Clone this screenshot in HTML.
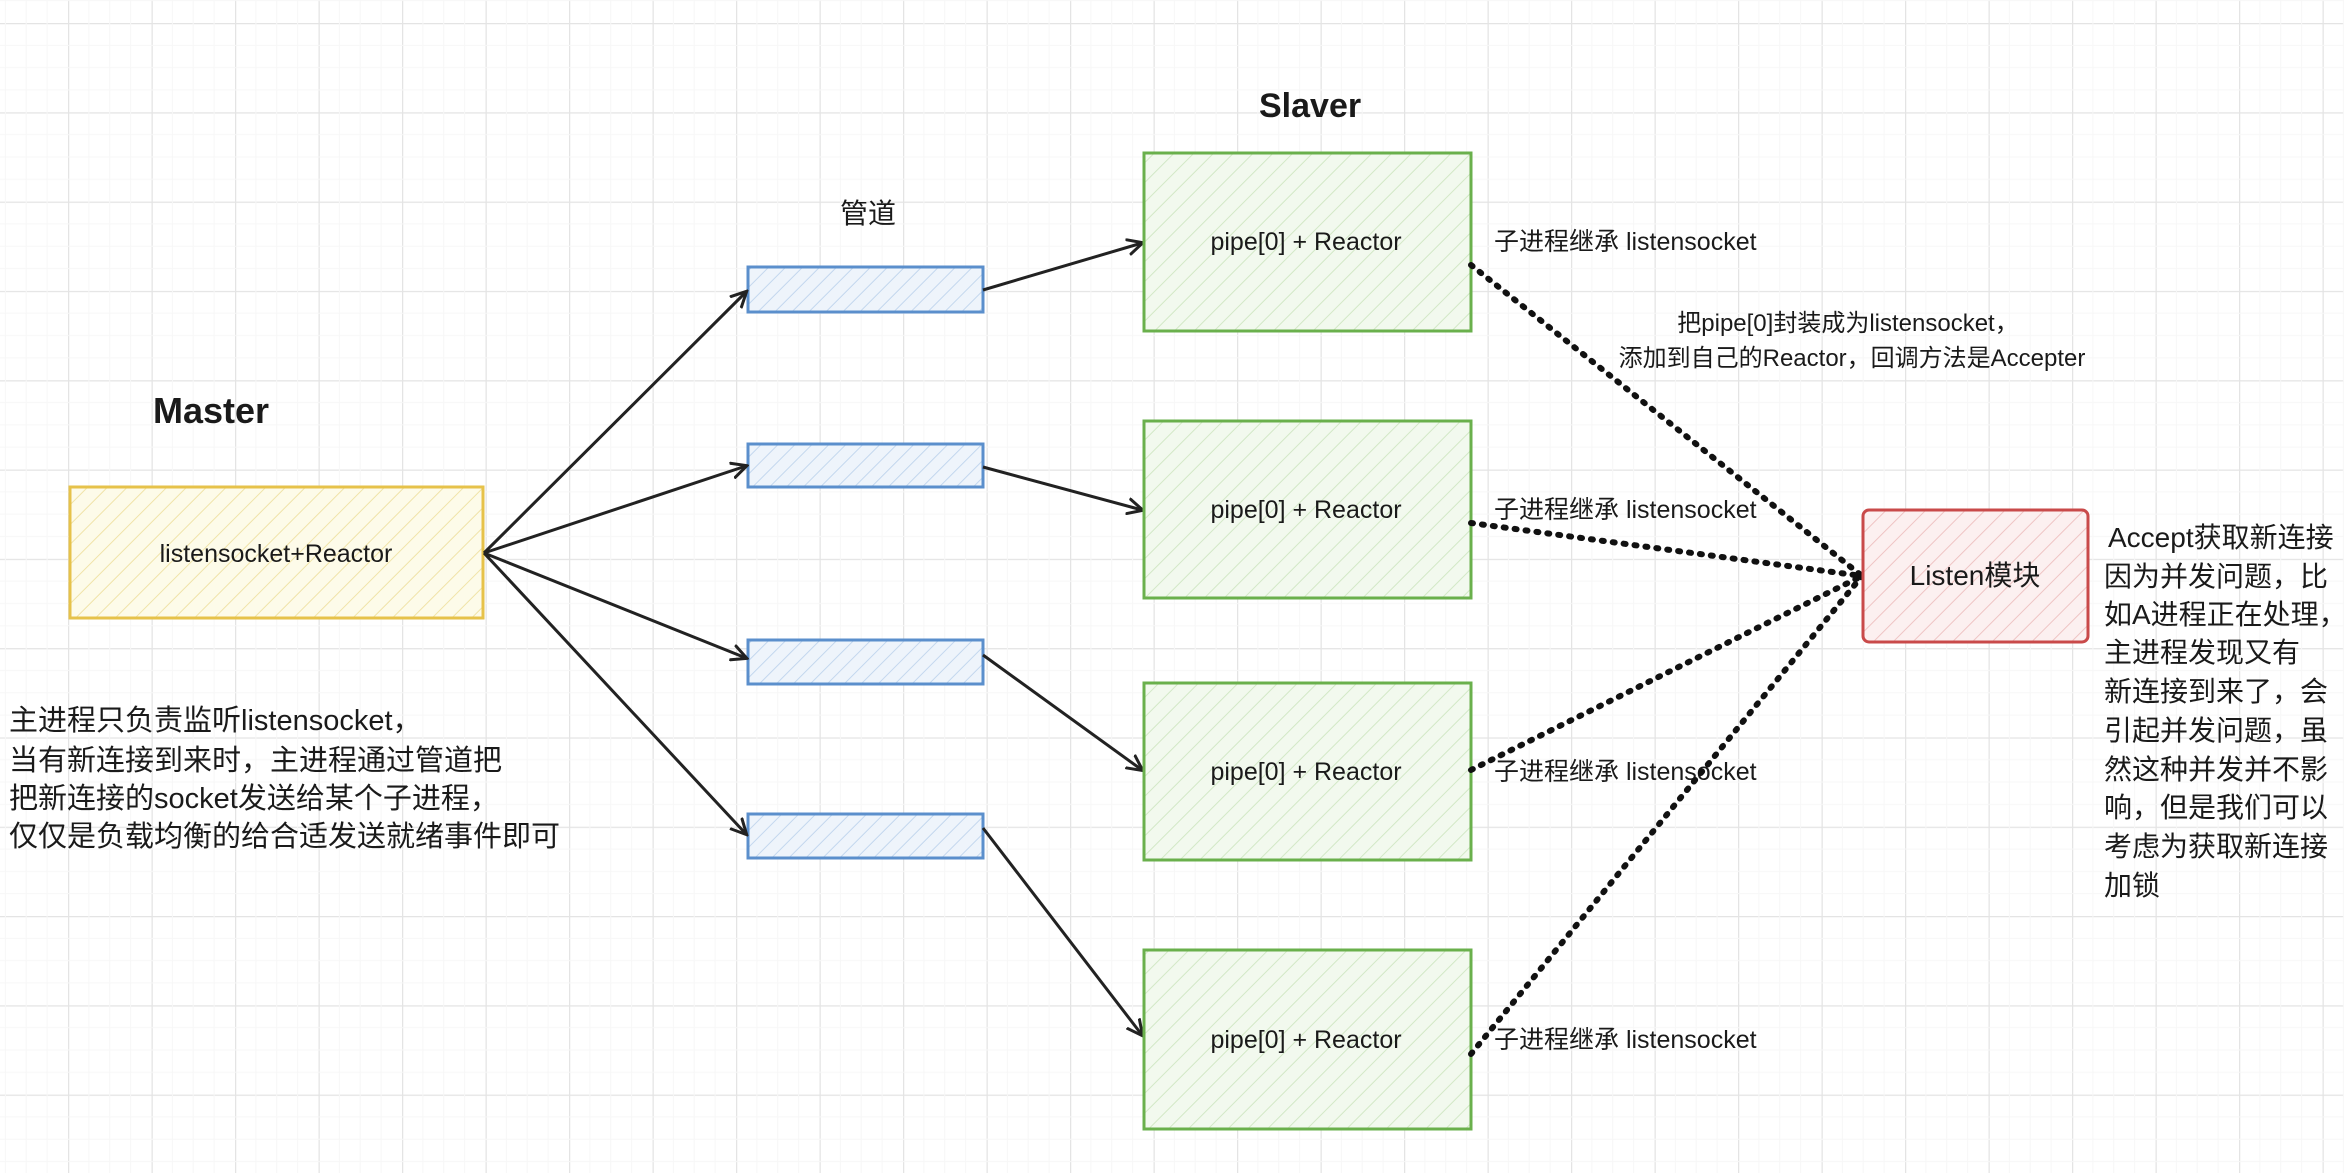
<!DOCTYPE html>
<html><head><meta charset="utf-8"><style>
html,body{margin:0;padding:0;width:2344px;height:1173px;overflow:hidden;background:#fff}
svg{display:block}
text{font-family:"Liberation Sans","Noto Sans CJK SC",sans-serif;fill:#1a1a1a}
</style></head><body>
<svg width="2344" height="1173" viewBox="0 0 2344 1173" xmlns="http://www.w3.org/2000/svg">
<defs>
<pattern id="gx" x="68" y="23" width="83.5" height="89.3" patternUnits="userSpaceOnUse">
<rect width="83.5" height="89.3" fill="#fff"/>
<path d="M0 0V89.3M0 0H83.5" stroke="#e4e4e4" stroke-width="2.5"/>
<path d="M20.9 0V89.3M41.7 0V89.3M62.6 0V89.3M0 22.3H83.5M0 44.6H83.5M0 67H83.5" stroke="#f7f7f7" stroke-width="1"/>
</pattern>
<pattern id="hy" width="14" height="14" patternUnits="userSpaceOnUse" patternTransform="rotate(45)"><rect width="14" height="14" fill="#fdfbe9"/><line x1="0" y1="0" x2="0" y2="14" stroke="#f0e3a8" stroke-width="2"/></pattern>
<pattern id="hb" width="12" height="12" patternUnits="userSpaceOnUse" patternTransform="rotate(45)"><rect width="12" height="12" fill="#eef4fb"/><line x1="0" y1="0" x2="0" y2="12" stroke="#c3d7ee" stroke-width="2"/></pattern>
<pattern id="hg" width="14" height="14" patternUnits="userSpaceOnUse" patternTransform="rotate(45)"><rect width="14" height="14" fill="#f2f9ee"/><line x1="0" y1="0" x2="0" y2="14" stroke="#d2e8c6" stroke-width="2"/></pattern>
<pattern id="hr" width="14" height="14" patternUnits="userSpaceOnUse" patternTransform="rotate(45)"><rect width="14" height="14" fill="#fcf0f0"/><line x1="0" y1="0" x2="0" y2="14" stroke="#efc4c4" stroke-width="2"/></pattern>
<marker id="ar" markerWidth="18" markerHeight="18" refX="15" refY="9" orient="auto" markerUnits="userSpaceOnUse"><path d="M0 1L16 9L0 17" fill="none" stroke="#222" stroke-width="3"/></marker>
</defs>
<rect width="2344" height="1173" fill="url(#gx)"/>

<text x="153" y="423" font-size="36" font-weight="bold">Master</text>
<rect x="70" y="487" width="413" height="131" fill="url(#hy)" stroke="#e6c24a" stroke-width="3"/>
<text x="276" y="562" font-size="25" text-anchor="middle">listensocket+Reactor</text>
<g font-size="29">
<text x="9" y="730">主进程只负责监听listensocket，</text>
<text x="9" y="770">当有新连接到来时，主进程通过管道把</text>
<text x="9" y="808">把新连接的socket发送给某个子进程，</text>
<text x="9" y="846">仅仅是负载均衡的给合适发送就绪事件即可</text>
</g>

<text x="868" y="223" font-size="28" text-anchor="middle">管道</text>
<rect x="748" y="267" width="235" height="45" fill="url(#hb)" stroke="#5b8fcc" stroke-width="3"/>
<rect x="748" y="444" width="235" height="43" fill="url(#hb)" stroke="#5b8fcc" stroke-width="3"/>
<rect x="748" y="640" width="235" height="44" fill="url(#hb)" stroke="#5b8fcc" stroke-width="3"/>
<rect x="748" y="814" width="235" height="44" fill="url(#hb)" stroke="#5b8fcc" stroke-width="3"/>

<g stroke="#222" stroke-width="3" fill="none" marker-end="url(#ar)">
<path d="M484 553L746 292"/>
<path d="M484 553L746 466"/>
<path d="M484 553L746 658"/>
<path d="M484 553L746 834"/>
<path d="M983 290L1142 243"/>
<path d="M983 467L1142 510"/>
<path d="M983 655L1142 770"/>
<path d="M983 828L1142 1035"/>
</g>

<text x="1259" y="117" font-size="34" font-weight="bold">Slaver</text>
<g fill="url(#hg)" stroke="#6ab04c" stroke-width="3">
<rect x="1144" y="153" width="327" height="178"/>
<rect x="1144" y="421" width="327" height="177"/>
<rect x="1144" y="683" width="327" height="177"/>
<rect x="1144" y="950" width="327" height="179"/>
</g>
<g font-size="25" text-anchor="middle">
<text x="1306" y="250">pipe[0] + Reactor</text>
<text x="1306" y="518">pipe[0] + Reactor</text>
<text x="1306" y="780">pipe[0] + Reactor</text>
<text x="1306" y="1048">pipe[0] + Reactor</text>
</g>
<g font-size="25">
<text x="1494" y="250">子进程继承 listensocket</text>
<text x="1494" y="518">子进程继承 listensocket</text>
<text x="1494" y="780">子进程继承 listensocket</text>
<text x="1494" y="1048">子进程继承 listensocket</text>
</g>
<g font-size="24" text-anchor="middle">
<text x="1848" y="331">把pipe[0]封装成为listensocket，</text>
<text x="1852" y="366">添加到自己的Reactor，回调方法是Accepter</text>
</g>

<g stroke="#111" stroke-width="6" stroke-dasharray="2 9" stroke-linecap="round" fill="none">
<path d="M1471 265L1862 576"/>
<path d="M1471 523L1862 576"/>
<path d="M1471 770L1862 576"/>
<path d="M1471 1054L1862 576"/>
</g>

<rect x="1863" y="510" width="225" height="132" rx="6" fill="url(#hr)" stroke="#c94a4a" stroke-width="3"/>
<text x="1975" y="585" font-size="28" text-anchor="middle">Listen模块</text>
<g font-size="28">
<text x="2108" y="547">Accept获取新连接</text>
<text x="2104" y="586">因为并发问题，比</text>
<text x="2104" y="624">如A进程正在处理，</text>
<text x="2104" y="662">主进程发现又有</text>
<text x="2104" y="701">新连接到来了，会</text>
<text x="2104" y="740">引起并发问题，虽</text>
<text x="2104" y="779">然这种并发并不影</text>
<text x="2104" y="817">响，但是我们可以</text>
<text x="2104" y="856">考虑为获取新连接</text>
<text x="2104" y="895">加锁</text>
</g>
</svg>
</body></html>
